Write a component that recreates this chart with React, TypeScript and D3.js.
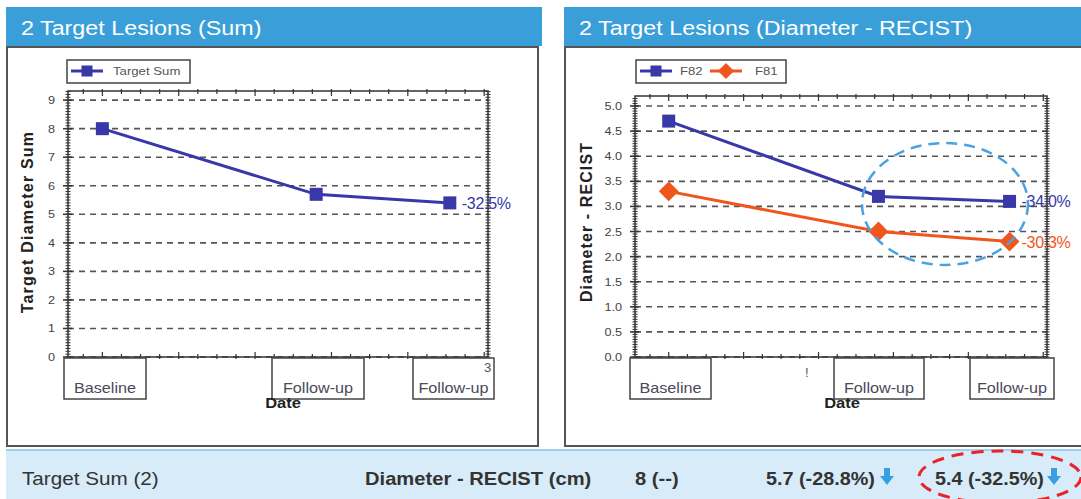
import React from "react";
import * as d3 from "d3";

const categories = ["Baseline", "Follow-up", "Follow-up"];
const days = [0, 56, 91];
const targetSum = [8, 5.7, 5.4];
const f82 = [4.7, 3.2, 3.1];
const f81 = [3.3, 2.5, 2.3];
const leftTicks = [0, 1, 2, 3, 4, 5, 6, 7, 8, 9];
const rightTicks = [0, 0.5, 1, 1.5, 2, 2.5, 3, 3.5, 4, 4.5, 5];

const BLUE = "#3838a8";
const ORANGE = "#f0561c";
const FONT = "'Liberation Sans', Arial, sans-serif";

const pct = (arr: number[]) => ((arr[arr.length - 1] - arr[0]) / arr[0]) * 100;
const fmtPct = (v: number) => {
  const r = Math.round(Math.abs(v) * 10 + 1e-6) / 10;
  return `${v < 0 ? "-" : ""}${r.toFixed(1)}%`;
};

type Series = { name: string; values: number[]; color: string; marker: "square" | "diamond" };

function T(props: { x: number; y: number; sx?: number; size: number; fill?: string; bold?: boolean; anchor?: string; children: any; ls?: number }) {
  const { x, y, sx = 1.1, size, fill = "#333", bold, anchor = "start", children, ls } = props;
  return (
    <text transform={`translate(${x},${y}) scale(${sx},1)`} fontSize={size} fill={fill} fontWeight={bold ? "bold" : "normal"}
      textAnchor={anchor} fontFamily={FONT} letterSpacing={ls}>{children}</text>
  );
}

function Marker({ x, y, kind, color, size }: { x: number; y: number; kind: string; color: string; size: number }) {
  if (kind === "square") {
    return <rect x={x - size / 2} y={y - size / 2} width={size} height={size} fill={color} />;
  }
  const s = size * 0.62;
  return <path d={`M${x},${y - s} L${x + s},${y} L${x},${y + s} L${x - s},${y} Z`} fill={color} />;
}

function Chart(props: {
  ox: number; title: string; yTitle: string; yTitleLs: number; plotX0: number; plotX1: number; plotTop: number; plotBottom: number;
  yMax: number; ticks: number[]; fmt: (v: number) => string; minorStep: number; series: Series[];
  legendX: number; legendW: number; legendItems: { line: number; text: number }[]; boxes: { x0: number; x1: number }[]; dateX: number; yTitleX: number;
  panelRight: number; headerRight: number; artifact: { t: string; x: number; y: number };
}) {
  const p = props;
  const x = d3.scaleLinear().domain([-9, 101]).range([p.plotX0, p.plotX1]);
  const y = d3.scaleLinear().domain([0, p.yMax]).range([p.plotBottom, p.plotTop]);
  const line = d3.line<number>().x((_, i) => x(days[i])).y((v) => y(v));
  const minor = d3.range(0, p.yMax, p.minorStep);
  const xMinor = d3.range(-5, 101, 5);
  return (
    <g>
      <rect x={p.ox} y={7} width={p.headerRight - p.ox} height={39} fill="#3a9fd8" />
      <T x={p.ox + 15} y={35} size={21} fill="#ffffff" sx={1.11}>{p.title}</T>
      <rect x={p.ox + 1} y={47} width={p.panelRight - p.ox - 1} height={399} fill="#ffffff" stroke="#555" strokeWidth={2} />
      {/* legend */}
      <rect x={p.legendX} y={60} width={p.legendW} height={23} fill="#fff" stroke="#444" strokeWidth={1.5} />
      {p.series.map((s, i) => {
        const it = p.legendItems[i];
        return (
          <g key={s.name}>
            <line x1={it.line} x2={it.line + 32} y1={71} y2={71} stroke={s.color} strokeWidth={3} />
            <Marker x={it.line + 16} y={71} kind={s.marker} color={s.color} size={s.marker === "square" ? 11 : 13} />
            <T x={it.text} y={75} size={11} fill="#555" sx={1.2}>{s.name}</T>
          </g>
        );
      })}
      {/* grid */}
      {p.ticks.map((t) => (
        <line key={t} x1={p.plotX0} x2={p.plotX1} y1={y(t)} y2={y(t)} stroke="#555" strokeWidth={1.6} strokeDasharray="6 5" />
      ))}
      {/* frame */}
      <rect x={p.plotX0} y={p.plotTop} width={p.plotX1 - p.plotX0} height={p.plotBottom - p.plotTop} fill="none" stroke="#333" strokeWidth={1.5} />
      {minor.map((t, i) => (
        <g key={i}>
          <line x1={p.plotX0 - 2.5} x2={p.plotX0 + 2.5} y1={y(t)} y2={y(t)} stroke="#333" strokeWidth={1} />
          <line x1={p.plotX1 - 2.5} x2={p.plotX1 + 2.5} y1={y(t)} y2={y(t)} stroke="#333" strokeWidth={1} />
        </g>
      ))}
      {p.ticks.map((t) => (
        <g key={t}>
          <line x1={p.plotX0 - 5} x2={p.plotX0 + 4} y1={y(t)} y2={y(t)} stroke="#333" strokeWidth={1.5} />
          <T x={p.plotX0 - 13} y={y(t) + 4} anchor="end" size={11.5} fill="#444">{p.fmt(t)}</T>
        </g>
      ))}
      {xMinor.map((d, i) => (
        <g key={i}>
          <line x1={x(d)} x2={x(d)} y1={p.plotTop - 2} y2={p.plotTop + (i % 4 === 1 ? 5 : 3)} stroke="#333" strokeWidth={1.2} />
          <line x1={x(d)} x2={x(d)} y1={p.plotBottom - (i % 4 === 1 ? 5 : 3)} y2={p.plotBottom + 2} stroke="#333" strokeWidth={1.2} />
        </g>
      ))}
      <text transform={`translate(${p.yTitleX},222) rotate(-90)`} textAnchor="middle" fontSize={16} fontWeight="bold" fill="#222"
        fontFamily={FONT} letterSpacing={p.yTitleLs}>{p.yTitle}</text>
      {/* category boxes */}
      {categories.map((c, i) => (
        <g key={i}>
          <rect x={p.boxes[i].x0} y={358} width={p.boxes[i].x1 - p.boxes[i].x0} height={41} fill="#fff" stroke="#444" strokeWidth={1.5} />
          <T x={(p.boxes[i].x0 + p.boxes[i].x1) / 2} y={393} anchor="middle" size={15} fill="#4a4a5a" sx={1.08}>{c}</T>
        </g>
      ))}
      <T x={p.artifact.x} y={p.artifact.y} size={12} fill="#555">{p.artifact.t}</T>
      <T x={p.dateX} y={408} anchor="middle" size={15} bold fill="#222">Date</T>
      {/* series */}
      {p.series.map((s) => (
        <g key={s.name}>
          <path d={line(s.values) || ""} fill="none" stroke={s.color} strokeWidth={3} />
          {s.values.map((v, i) => (
            <Marker key={i} x={x(days[i])} y={y(v)} kind={s.marker} color={s.color} size={s.marker === "square" ? 13 : 16} />
          ))}
          <T x={x(days[days.length - 1]) + 12} y={y(s.values[s.values.length - 1]) + 6} size={16} fill={s.color} sx={1.0} ls={-0.3}>
            {fmtPct(pct(s.values))}
          </T>
        </g>
      ))}
    </g>
  );
}

function DownArrow({ cx, top }: { cx: number; top: number }) {
  return (
    <path d={`M${cx - 3},${top} L${cx + 3},${top} L${cx + 3},${top + 8} L${cx + 7},${top + 8} L${cx},${top + 17} L${cx - 7},${top + 8} L${cx - 3},${top + 8} Z`} fill="#3a9fe0" />
  );
}

export default function App() {
  const sumChange = targetSum.map((v, i) => (i === 0 ? `${v} (--)` : `${v} (${fmtPct(((v - targetSum[0]) / targetSum[0]) * 100)})`));
  return (
    <svg width={1081} height={499} style={{ position: "absolute", left: 0, top: 0 }}>
      <rect x={0} y={0} width={1081} height={499} fill="#ffffff" />
      <Chart ox={6} title="2 Target Lesions (Sum)" yTitle="Target Diameter Sum" yTitleLs={1.2} plotX0={68} plotX1={488} plotTop={91} plotBottom={357}
        yMax={9.32} ticks={leftTicks} fmt={(v) => `${v}`} minorStep={0.1}
        series={[{ name: "Target Sum", values: targetSum, color: BLUE, marker: "square" }]}
        legendX={67} legendW={123} legendItems={[{ line: 71, text: 113 }]}
        boxes={[{ x0: 64, x1: 146 }, { x0: 272, x1: 364 }, { x0: 413, x1: 494 }]} dateX={283} yTitleX={33}
        panelRight={538} headerRight={542} artifact={{ t: "3", x: 484, y: 372 }} />
      <Chart ox={564} title="2 Target Lesions (Diameter - RECIST)" yTitle="Diameter - RECIST" yTitleLs={1.1} plotX0={635} plotX1={1047} plotTop={96} plotBottom={357}
        yMax={5.2} ticks={rightTicks} fmt={(v) => v.toFixed(1)} minorStep={0.05}
        series={[{ name: "F82", values: f82, color: BLUE, marker: "square" }, { name: "F81", values: f81, color: ORANGE, marker: "diamond" }]}
        legendX={636} legendW={150} legendItems={[{ line: 640, text: 680 }, { line: 710, text: 755 }]}
        boxes={[{ x0: 630, x1: 711 }, { x0: 834, x1: 924 }, { x0: 970, x1: 1054 }]} dateX={842} yTitleX={592}
        panelRight={1090} headerRight={1081} artifact={{ t: "!", x: 805, y: 377 }} />
      <ellipse cx={945} cy={204} rx={83} ry={61} fill="none" stroke="#4aa3e0" strokeWidth={2.5} strokeDasharray="11 7" />
      {/* bottom band */}
      <rect x={6} y={450} width={1075} height={49} fill="#d7ebf8" />
      <line x1={6} x2={1081} y1={450} y2={450} stroke="#9fd0f0" strokeWidth={2} />
      <T x={22} y={485} size={18} fill="#333" sx={1.15}>Target Sum (2)</T>
      <T x={365} y={485} size={18} bold fill="#333" sx={1.12}>Diameter - RECIST (cm)</T>
      <T x={635} y={485} size={18} bold fill="#333" sx={1.12}>{sumChange[0]}</T>
      <T x={766} y={485} size={18} bold fill="#333" sx={1.1}>{sumChange[1]}</T>
      <DownArrow cx={887} top={468} />
      <T x={935} y={485} size={18} bold fill="#333" sx={1.1}>{sumChange[2]}</T>
      <DownArrow cx={1054} top={468} />
      <ellipse cx={1000} cy={477} rx={81} ry={26} fill="none" stroke="#e8232a" strokeWidth={3} strokeDasharray="12 8" />
    </svg>
  );
}
